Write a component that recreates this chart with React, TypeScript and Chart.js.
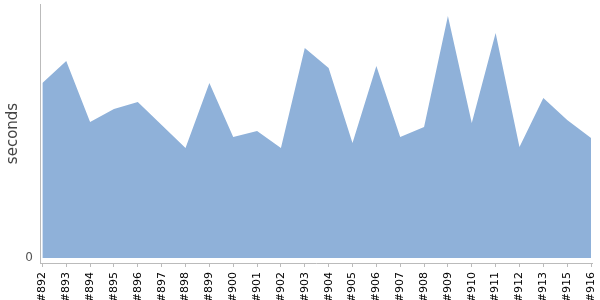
import React, { useEffect, useRef } from "react";
import { Chart, registerables } from "chart.js";

Chart.register(...registerables);

const builds = ["#892", "#893", "#894", "#895", "#896", "#897", "#898", "#899", "#900", "#901", "#902", "#903", "#904", "#905", "#906", "#907", "#908", "#909", "#910", "#911", "#912", "#913", "#915", "#916"];
const durations = [17.5, 19.7, 13.6, 14.9, 15.6, 13.3, 11.0, 17.5, 12.1, 12.7, 11.0, 21.0, 19.0, 11.5, 19.2, 12.1, 13.1, 24.2, 13.5, 22.5, 11.1, 16.0, 13.8, 12.0];
const yTicks = [0];

export default function App() {
  const ref = useRef<HTMLCanvasElement | null>(null);
  useEffect(() => {
    if (!ref.current) return;
    const chart = new Chart(ref.current, {
      type: "line",
      data: {
        datasets: [
          {
            data: durations.map((v, i) => ({ x: i, y: v })),
            fill: "origin",
            backgroundColor: "#8fb1d9",
            borderColor: "#8fb1d9",
            borderWidth: 0,
            pointRadius: 0,
            tension: 0,
          },
        ],
      },
      options: {
        animation: false,
        responsive: false,
        layout: { padding: { top: 4, right: 8, left: 0, bottom: 0 } },
        plugins: { legend: { display: false }, tooltip: { enabled: false } },
        scales: {
          x: {
            type: "linear",
            min: -0.1,
            max: 23.04,
            afterBuildTicks: (s: any) => {
              s.ticks = builds.map((_, i) => ({ value: i }));
            },
            afterFit: (s: any) => {
              s.height = 37;
              s.paddingLeft = 0;
              s.paddingRight = 0;
              s.paddingTop = 0;
              s.paddingBottom = 0;
            },
            ticks: {
              callback: (v: any) => builds[v] ?? "",
              autoSkip: false,
              maxRotation: 90,
              minRotation: 90,
              padding: 5,
              color: "#000",
              font: { family: "DejaVu Sans", size: 11 },
            },
            grid: { drawOnChartArea: false, tickLength: 4, color: "#bbbbbb" },
            border: { color: "#bbbbbb" },
          },
          y: {
            min: -0.5,
            max: 25.4,
            afterBuildTicks: (s: any) => {
              s.ticks = yTicks.map((v) => ({ value: v }));
            },
            afterFit: (s: any) => {
              s.width = 40;
              s.paddingLeft = 0;
              s.paddingRight = 0;
              s.paddingTop = 0;
              s.paddingBottom = 0;
            },
            ticks: {
              padding: 7,
              color: "#555",
              font: { family: "DejaVu Sans", size: 12 },
            },
            grid: { display: true, drawOnChartArea: false, drawTicks: false },
            border: { color: "#bbbbbb" },
            title: {
              display: true,
              text: "seconds",
              color: "#444",
              padding: { top: 4, bottom: 0 },
              font: { family: "DejaVu Sans", size: 15 },
            },
          },
        },
      },
    });
    return () => chart.destroy();
  }, []);
  return (
    <div style={{ position: "absolute", left: 0, top: 0, width: 600, height: 300 }}>
      <canvas ref={ref} width={600} height={300} />
    </div>
  );
}
